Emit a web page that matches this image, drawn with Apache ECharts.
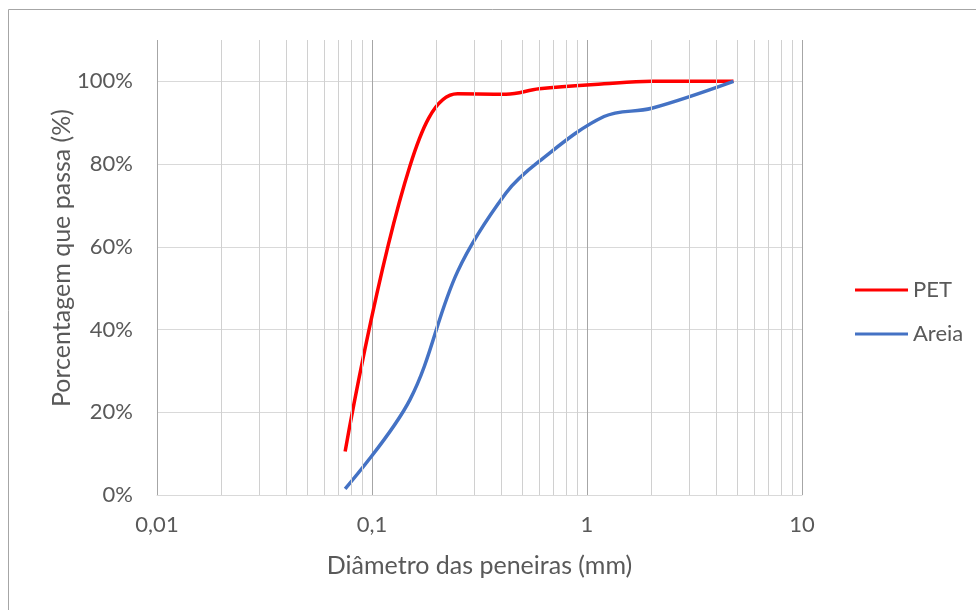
<!DOCTYPE html>
<html>
<head>
<meta charset="utf-8">
<script src="https://cdn.jsdelivr.net/npm/echarts@6/dist/echarts.min.js"></script>
<style>
html,body{margin:0;padding:0;background:#fff;}
#chart{width:976px;height:610px;}
</style>
</head>
<body>
<div id="chart"></div>
<script>
// Sieve openings (mm)
const sieves = [0.075, 0.15, 0.25, 0.42, 0.6, 1.2, 2.0, 4.8];
// Percent passing
const petValues   = [10.5, 79.5, 97, 96.9, 98.2, 99.4, 100, 100];
const areiaValues = [1.5, 23, 54, 73, 80.7, 91.5, 93.5, 100];
const seriesNames = ['PET', 'Areia'];
const xTickLabels = ['0,01', '0,1', '1', '10'];
const yTickLabels = ['0%', '20%', '40%', '60%', '80%', '100%'];
const minorGrid = [0.02,0.03,0.04,0.05,0.06,0.07,0.08,0.09,0.2,0.3,0.4,0.5,0.6,0.7,0.8,0.9,2,3,4,5,6,7,8,9];

const font = 'Lato, "Open Sans", sans-serif';
const txt = '#595959';

const chart = echarts.init(document.getElementById('chart'), null, {renderer: 'canvas'});
chart.setOption({
  animation: false,
  backgroundColor: '#ffffff',
  grid: {left: 157, right: 174, top: 40, bottom: 115, containLabel: false},
  graphic: [
    {type: 'rect', shape: {x: 8.5, y: 9.5, width: 1100, height: 800}, style: {fill: 'none', stroke: '#a6a6a6', lineWidth: 1}, silent: true, z: 0},
    {type: 'text', x: 62, y: 258, rotation: Math.PI / 2, style: {text: 'Porcentagem que passa (%)', font: '25px ' + font, fill: txt, align: 'center', verticalAlign: 'middle'}, silent: true}
  ],
  legend: {
    orient: 'vertical', left: 850, top: 274,
    data: seriesNames,
    icon: 'rect', itemWidth: 53, itemHeight: 3, itemGap: 22,
    textStyle: {fontFamily: font, fontSize: 22, color: txt}
  },
  xAxis: {
    type: 'log', logBase: 10, min: 0.01, max: 10,
    name: 'Diâmetro das peneiras (mm)', nameLocation: 'middle', nameGap: 58,
    nameTextStyle: {fontFamily: font, fontSize: 25, color: txt},
    axisLine: {show: true, lineStyle: {color: '#d9d9d9', width: 1}},
    axisTick: {show: false},
    axisLabel: {
      margin: 19, fontFamily: font, fontSize: 22, color: txt,
      formatter: function (v) { return xTickLabels[Math.round(Math.log10(v)) + 2] || ''; }
    },
    splitLine: {show: true, lineStyle: {color: '#a6a6a6', width: 1}}
  },
  yAxis: {
    type: 'value', min: 0, max: 1.1, interval: 0.2,
    axisLine: {show: false}, axisTick: {show: false},
    axisLabel: {
      margin: 24, fontFamily: font, fontSize: 22, color: txt, showMaxLabel: false,
      formatter: function (v) { const i = Math.round(v * 5); return v <= 1.0001 ? (yTickLabels[i] || '') : ''; }
    },
    splitLine: {show: true, showMaxLine: false, lineStyle: {color: '#d9d9d9', width: 1}}
  },
  series: [
    {
      name: 'grid-minor', type: 'line', data: [], silent: true, z: 1,
      markLine: {
        silent: true, symbol: ['none', 'none'], label: {show: false},
        lineStyle: {type: 'solid', color: '#d0d0d0', width: 1},
        emphasis: {disabled: true},
        data: minorGrid.map(v => ({xAxis: v}))
      }
    },
    {
      name: 'PET', type: 'line', smooth: 0.38, showSymbol: false, z: 3,
      itemStyle: {color: '#ff0000'},
      lineStyle: {color: '#ff0000', width: 3.5},
      data: sieves.map((s, i) => [s, petValues[i] / 100])
    },
    {
      name: 'Areia', type: 'line', smooth: 0.35, showSymbol: false, z: 3,
      itemStyle: {color: '#4472c4'},
      lineStyle: {color: '#4472c4', width: 3.5},
      data: sieves.map((s, i) => [s, areiaValues[i] / 100])
    }
  ]
});
</script>
</body>
</html>
